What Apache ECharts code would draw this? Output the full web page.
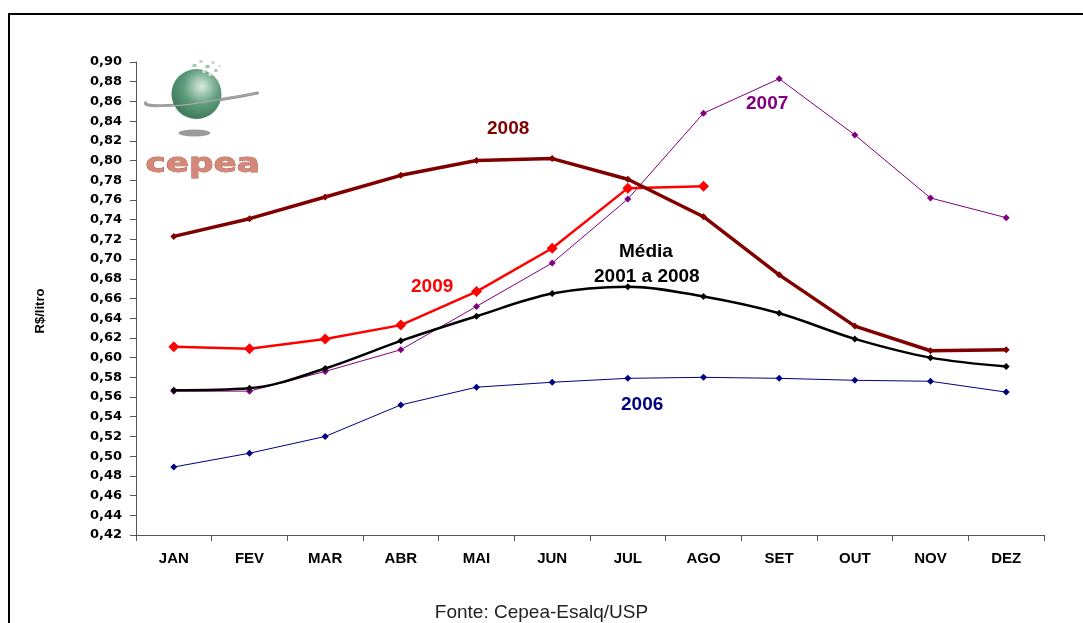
<!DOCTYPE html>
<html lang="pt-br">
<head>
    <meta charset="UTF-8">
    <title>Cepea - R$/litro</title>
    <style>
        html, body { margin: 0; padding: 0; background: #fff; }
        #chart { width: 1083px; height: 623px; }
    </style>
</head>
<body>
<div id="chart"></div>
<script src="https://cdn.jsdelivr.net/npm/echarts@6/dist/echarts.min.js"></script>
<script>
    // meses
    var meses = ['JAN', 'FEV', 'MAR', 'ABR', 'MAI', 'JUN', 'JUL', 'AGO', 'SET', 'OUT', 'NOV', 'DEZ'];
    // precos R$/litro
    var ano2006 = [0.489, 0.503, 0.520, 0.552, 0.570, 0.575, 0.579, 0.580, 0.579, 0.577, 0.576, 0.565];
    var ano2007 = [0.566, 0.566, 0.586, 0.608, 0.652, 0.696, 0.761, 0.848, 0.883, 0.826, 0.762, 0.742];
    var ano2008 = [0.723, 0.741, 0.763, 0.785, 0.800, 0.802, 0.781, 0.743, 0.684, 0.632, 0.607, 0.608];
    var ano2009 = [0.611, 0.609, 0.619, 0.633, 0.667, 0.711, 0.772, 0.774];
    var media = [0.567, 0.569, 0.589, 0.617, 0.642, 0.665, 0.672, 0.662, 0.645, 0.619, 0.600, 0.591];

    var fonte = 'Liberation Sans, Arial, sans-serif';
    var myChart = echarts.init(document.getElementById('chart'));

    function linha(nome, dados, cor, largura, tam, suave) {
        return {
            name: nome,
            type: 'line',
            data: dados,
            smooth: suave ? 0.35 : false,
            symbol: 'diamond',
            symbolSize: tam,
            lineStyle: { color: cor, width: largura },
            itemStyle: { color: cor },
            z: 3
        };
    }

    function rotulo(txt, x, y, cor) {
        return {
            type: 'text', left: x, top: y, z: 10,
            style: { text: txt, fill: cor, font: 'bold 19px ' + fonte }
        };
    }

    var option = {
        animation: false,
        backgroundColor: '#fff',
        grid: { left: 136, right: 39, top: 62, bottom: 88 },
        xAxis: {
            type: 'category',
            data: meses,
            boundaryGap: true,
            axisLine: { lineStyle: { color: '#555', width: 1 } },
            axisTick: { show: true, length: 6, inside: false, lineStyle: { color: '#555' } },
            axisLabel: { color: '#000', fontFamily: fonte, fontWeight: 'bold', fontSize: 15, margin: 16 }
        },
        yAxis: {
            type: 'value',
            min: 0.42,
            max: 0.90,
            interval: 0.02,
            splitLine: { show: false },
            axisLine: { show: true, lineStyle: { color: '#555', width: 1 } },
            axisTick: { show: true, length: 6, lineStyle: { color: '#555' } },
            axisLabel: {
                color: '#000', fontFamily: 'DejaVu Sans, sans-serif', fontWeight: 'bold', fontSize: 13, margin: 14,
                formatter: function (v) { return v.toFixed(2).replace('.', ','); }
            }
        },
        series: [
            linha('2006', ano2006, '#000080', 1, 7, false),
            linha('2007', ano2007, '#800080', 1, 7, false),
            linha('Média 2001 a 2008', media, '#000000', 2.5, 7, true),
            linha('2009', ano2009, '#ff0000', 2.5, 11, false),
            linha('2008', ano2008, '#800000', 3.5, 7, false)
        ],
        graphic: [
            // moldura
            { type: 'rect', shape: { x: 9, y: 14, width: 1100, height: 700 }, style: { fill: 'none', stroke: '#000', lineWidth: 2 }, z: 1 },
            // nome do eixo
            {
                type: 'text', x: 40, y: 311, rotation: Math.PI / 2, z: 10,
                style: { text: 'R$/litro', fill: '#000', font: 'bold 13px ' + fonte, align: 'center', verticalAlign: 'middle' }
            },
            // rotulos das series
            rotulo('2008', 487, 119, '#800000'),
            rotulo('2007', 746, 94, '#800080'),
            rotulo('2009', 411, 277, '#ff0000'),
            rotulo('Média', 619, 242, '#000000'),
            rotulo('2001 a 2008', 594, 267, '#000000'),
            rotulo('2006', 621, 395, '#000080'),
            {
                type: 'text', left: 'center', top: 603, z: 10,
                style: { text: 'Fonte: Cepea-Esalq/USP', fill: '#222', font: '19px ' + fonte }
            },
            // logo cepea
            {
                type: 'group', left: 143, top: 60, z: 5,
                children: [
                    { type: 'circle', shape: { cx: 50, cy: 75, r: 1 }, scaleX: 16, scaleY: 3.5, originX: 50, originY: 75,
                      style: { fill: '#8a8a8a', opacity: 0.85 } },
                    { type: 'bezierCurve', shape: { x1: 2, y1: 44, x2: 113, y2: 35, cpx1: -8, cpy1: 52, cpx2: 60, cpy2: 46 },
                      style: { stroke: '#9a9a9a', lineWidth: 3, fill: 'none' } },
                    { type: 'circle', shape: { cx: 52, cy: 36, r: 25 },
                      style: { fill: new echarts.graphic.RadialGradient(0.6, 0.35, 0.8, [
                          { offset: 0, color: '#d8ebe0' }, { offset: 0.45, color: '#5f9c7c' }, { offset: 1, color: '#2f6b4c' }
                      ]) } },
                    { type: 'bezierCurve', shape: { x1: 8, y1: 48, x2: 113, y2: 35, cpx1: 40, cpy1: 50, cpx2: 80, cpy2: 40 },
                      style: { stroke: '#a8a8a8', lineWidth: 1.2, fill: 'none' } },
                    { type: 'circle', shape: { cx: 113, cy: 35, r: 1.5 }, style: { fill: '#999' } },
                    { type: 'rect', shape: { x: 48, y: 6, width: 4, height: 3 }, style: { fill: '#a7c8b4' } },
                    { type: 'rect', shape: { x: 55, y: 2, width: 3, height: 3 }, style: { fill: '#b9d4c3' } },
                    { type: 'rect', shape: { x: 61, y: 7, width: 4, height: 3 }, style: { fill: '#9cc0aa' } },
                    { type: 'rect', shape: { x: 67, y: 3, width: 3, height: 3 }, style: { fill: '#c2dacb' } },
                    { type: 'rect', shape: { x: 70, y: 11, width: 3, height: 3 }, style: { fill: '#a7c8b4' } },
                    { type: 'rect', shape: { x: 74, y: 7, width: 2, height: 2 }, style: { fill: '#c2dacb' } },
                    { type: 'rect', shape: { x: 64, y: 15, width: 3, height: 3 }, style: { fill: '#d2e4d8' } },
                    { type: 'rect', shape: { x: 58, y: 12, width: 3, height: 3 }, style: { fill: '#d2e4d8' } },
                    { type: 'text', x: 1, y: 93, scaleX: 1.27, scaleY: 1,
                      style: { text: 'cepea', fill: '#d4887a', stroke: '#b15a4a', lineWidth: 0.8, font: 'bold 27px DejaVu Sans, sans-serif' } }
                ]
            }
        ]
    };
    myChart.setOption(option);
</script>
</body>
</html>
